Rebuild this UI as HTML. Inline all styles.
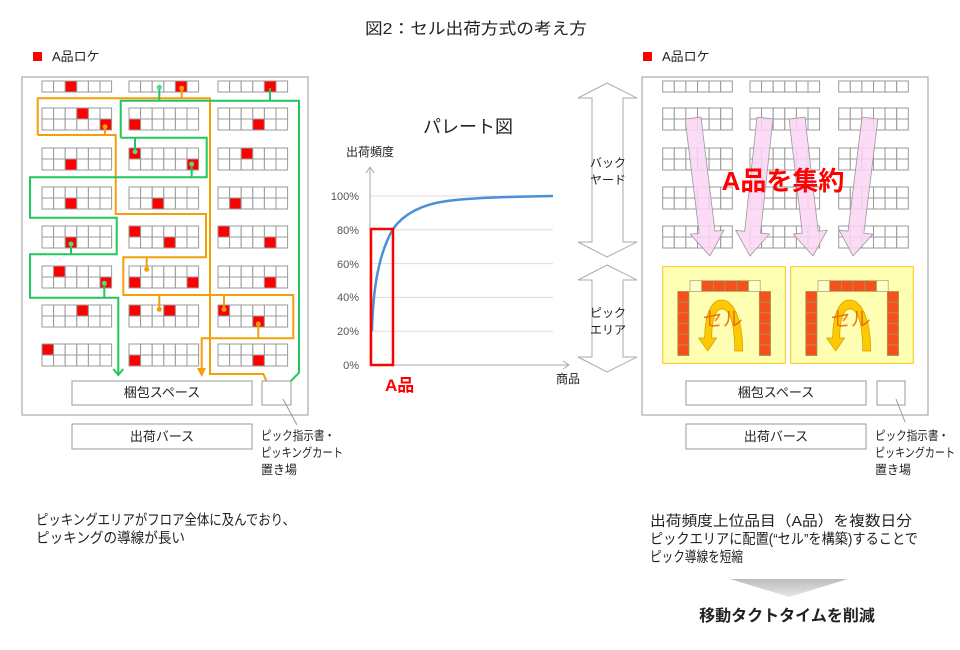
<!DOCTYPE html>
<html><head><meta charset="utf-8"><style>
html,body{margin:0;padding:0;background:#fff;}
svg{display:block;font-family:"Liberation Sans","Noto Sans CJK JP",sans-serif;}
</style></head><body>
<svg id="s" width="960" height="650" viewBox="0 0 960 650" xmlns="http://www.w3.org/2000/svg">
<defs>
<linearGradient id="tg" x1="0" y1="0" x2="0" y2="1"><stop offset="0" stop-color="#bdbdbd"/><stop offset="1" stop-color="#e6e6e6"/></linearGradient>
</defs>
<text x="365" y="34" font-size="16" fill="#222" textLength="222" lengthAdjust="spacingAndGlyphs">図2：セル出荷方式の考え方</text>
<rect x="33" y="52" width="9" height="9" fill="#f00"/>
<text x="52" y="61" font-size="13" fill="#222">A品ロケ</text>
<rect x="643" y="52" width="9" height="9" fill="#f00"/>
<text x="662" y="61" font-size="13" fill="#222">A品ロケ</text>

<rect x="22" y="77" width="286" height="338" fill="none" stroke="#999" stroke-width="1"/>
<rect x="642" y="77" width="286" height="338" fill="none" stroke="#999" stroke-width="1"/>
<g id="racks"></g>

<g fill="none" stroke="#f59e0b" stroke-width="2">
<polyline points="37.7,135 37.7,98.3 210,98.3 210,374 263.3,374 268.3,385"/>
<polyline points="37.7,135 115.7,135 115.7,214 206,214 206,257.3 123.3,257.3 123.3,295 293.3,295 293.3,338.3 201.7,338.3 201.7,372"/>
<path d="M105,126.7V135 M181.7,88.3V98.3 M146.7,269.3V257.3 M159.3,309.3V295 M224,309.3V295 M258.3,324V338.3"/>
</g>
<path d="M197,368 L206,368 L201.7,377Z" fill="#f59e0b"/>
<g fill="#f59e0b"><circle cx="105" cy="126.7" r="2.5"/><circle cx="181.7" cy="88.3" r="2.5"/><circle cx="146.7" cy="269.3" r="2.5"/><circle cx="159.3" cy="309.3" r="2.5"/><circle cx="224" cy="309.3" r="2.5"/><circle cx="258.3" cy="324" r="2.5"/></g>
<g fill="none" stroke="#22c55e" stroke-width="2">
<polyline points="120.7,137.7 120.7,100.7 299,100.7 299,372.7 286,386"/>
<polyline points="120.7,137.7 206.7,137.7 206.7,177.3 30,177.3 30,217.7 116.7,217.7 116.7,254.3 30,254.3 30,297.7 118.3,297.7 118.3,375"/>
<path d="M159.3,87.3V100.7 M270,88V100.7 M135,151.7V137.7 M191.7,164V177.3 M71,244V254.3 M104.3,283.3V297.7"/>
<path d="M113.3,369 L118.3,375 L123.3,369"/>
</g>
<g fill="#4ade80"><circle cx="159.3" cy="87.3" r="2.5"/><circle cx="135" cy="151.7" r="2.5"/><circle cx="191.7" cy="164" r="2.5"/><circle cx="71" cy="244" r="2.5"/><circle cx="104.3" cy="283.3" r="2.5"/></g>

<g fill="#fff" stroke="#999" stroke-width="1">
<rect x="72" y="381" width="180" height="24"/>
<rect x="262" y="381" width="29" height="24"/>
<rect x="72" y="424" width="180" height="25"/>
<rect x="686" y="381" width="180" height="24"/>
<rect x="877" y="381" width="28" height="24"/>
<rect x="686" y="424" width="180" height="25"/>
</g>
<g stroke="#999"><line x1="283" y1="399" x2="297" y2="425"/><line x1="896" y1="399" x2="905" y2="422"/></g>
<g font-size="13" fill="#222" text-anchor="middle">
<text x="162" y="397">梱包スペース</text><text x="162" y="441">出荷バース</text>
<text x="776" y="397">梱包スペース</text><text x="776" y="441">出荷バース</text>
</g>
<g font-size="12.5" fill="#222" lengthAdjust="spacingAndGlyphs">
<text x="261" y="440" textLength="74" lengthAdjust="spacingAndGlyphs">ピック指示書・</text><text x="261" y="457" textLength="82" lengthAdjust="spacingAndGlyphs">ピッキングカート</text><text x="261" y="474" textLength="36" lengthAdjust="spacingAndGlyphs">置き場</text>
<text x="875" y="440" textLength="74" lengthAdjust="spacingAndGlyphs">ピック指示書・</text><text x="875" y="457" textLength="80" lengthAdjust="spacingAndGlyphs">ピッキングカート</text><text x="875" y="474" textLength="36" lengthAdjust="spacingAndGlyphs">置き場</text>
</g>

<g id="cells"></g>

<g fill="#fbd5f5" fill-opacity="0.85" stroke="#999" stroke-width="0.8" id="pink"></g>
<text x="783" y="190" font-size="26" font-weight="bold" fill="#f00" text-anchor="middle">A品を集約</text>

<text x="468" y="133" font-size="18" fill="#222" text-anchor="middle">パレート図</text>
<text x="346" y="156" font-size="12" fill="#222">出荷頻度</text>
<g stroke="#ddd"><line x1="370" y1="196" x2="553" y2="196"/><line x1="370" y1="229.8" x2="553" y2="229.8"/><line x1="370" y1="263.6" x2="553" y2="263.6"/><line x1="370" y1="297.4" x2="553" y2="297.4"/><line x1="370" y1="331.2" x2="553" y2="331.2"/></g>
<g stroke="#aaa" fill="none"><path d="M370,365V168 M366,173 L370,167 L374,173 M370,365H568 M563,361 L569,365 L563,369"/></g>
<g font-size="11" fill="#555" text-anchor="end"><text x="359" y="200">100%</text><text x="359" y="234">80%</text><text x="359" y="268">60%</text><text x="359" y="301">40%</text><text x="359" y="335">20%</text><text x="359" y="369">0%</text></g>
<path d="M372,331 C373,290 378,255 393,229 C405,212 425,204 447,201 C470,198 500,197 553,196" fill="none" stroke="#4a90d9" stroke-width="2.5"/>
<rect x="371" y="229" width="22" height="136" fill="none" stroke="#f00" stroke-width="2.5"/>
<text x="385" y="391" font-size="17" font-weight="bold" fill="#f00">A品</text>
<text x="556" y="383" font-size="12" fill="#222">商品</text>
<g fill="#fff" stroke="#aaa"><path d="M607,83 L637,98 L623,98 L623,242 L637,242 L607,257 L578,242 L592,242 L592,98 L578,98Z"/><path d="M607,265 L637,280 L623,280 L623,357 L637,357 L607,372 L578,357 L592,357 L592,280 L578,280Z"/></g>
<g font-size="12" fill="#222" text-anchor="middle"><text x="608" y="167">バック</text><text x="608" y="184">ヤード</text><text x="608" y="317">ピック</text><text x="608" y="334">エリア</text></g>

<g font-size="14.5" fill="#222">
<text x="36" y="525" textLength="259" lengthAdjust="spacingAndGlyphs">ピッキングエリアがフロア全体に及んでおり、</text>
<text x="36" y="543" textLength="149" lengthAdjust="spacingAndGlyphs">ピッキングの導線が長い</text>
<text x="650" y="526" textLength="262" lengthAdjust="spacingAndGlyphs">出荷頻度上位品目（A品）を複数日分</text>
<text x="650" y="544" textLength="268" lengthAdjust="spacingAndGlyphs">ピックエリアに配置(“セル”を構築)することで</text>
<text x="650" y="562" textLength="93" lengthAdjust="spacingAndGlyphs">ピック導線を短縮</text>
</g>
<path d="M730,579 L848,579 L789,597Z" fill="url(#tg)"/>
<text x="787" y="621" font-size="16" font-weight="bold" fill="#222" text-anchor="middle">移動タクトタイムを削減</text>
</svg>
<script>
var NS="http://www.w3.org/2000/svg";
function el(p,t,a){var e=document.createElementNS(NS,t);for(var k in a)e.setAttribute(k,a[k]);p.appendChild(e);return e;}
var R=document.getElementById('racks');
var cw=11.6,ch=11;
function rack(x,y,rows,reds){
 for(var r=0;r<rows;r++)for(var c=0;c<6;c++){
  var red=reds.some(function(q){return q[0]==r&&q[1]==c;});
  el(R,'rect',{x:x+c*cw,y:y+r*ch,width:cw,height:ch,fill:red?'#f00':'#fff',stroke:'#999','stroke-width':1});
 }}
var LX=[42,129,218],RX=[662.7,750,838.7];
var RY=[108,148,187,226,266,305,344];
var topRed=[[[0,2]],[[0,4]],[[0,4]]];
var L=[
 [[[0,3],[1,5]],[[1,0]],[[1,3]]],
 [[[1,2]],[[0,0],[1,5]],[[0,2]]],
 [[[1,2]],[[1,2]],[[1,1]]],
 [[[1,2]],[[0,0],[1,3]],[[0,0],[1,4]]],
 [[[0,1],[1,5]],[[1,0],[1,5]],[[1,4]]],
 [[[0,3]],[[0,0],[0,3]],[[0,0],[1,3]]],
 [[[0,0]],[[1,0]],[[1,3]]]];
for(var i=0;i<3;i++){rack(LX[i],81,1,topRed[i]);rack(RX[i],81,1,[]);}
for(var j=0;j<7;j++)for(var i=0;i<3;i++)rack(LX[i],RY[j],2,L[j][i]);
for(var j=0;j<4;j++)for(var i=0;i<3;i++)rack(RX[i],RY[j],2,[]);
var P=document.getElementById('pink');
function parrow(x1,y1,x2,y2){var dx=x2-x1,dy=y2-y1,l=Math.hypot(dx,dy),ux=dx/l,uy=dy/l,nx=-uy,ny=ux,w=8,hw=17,hl=24;
 var bx=x2-ux*hl,by=y2-uy*hl;var pts=[[x1+nx*w,y1+ny*w],[bx+nx*w,by+ny*w],[bx+nx*hw,by+ny*hw],[x2,y2],[bx-nx*hw,by-ny*hw],[bx-nx*w,by-ny*w],[x1-nx*w,y1-ny*w]];
 el(P,'polygon',{points:pts.map(function(p){return p.join(',')}).join(' ')});}
parrow(693,118,710,256);parrow(765,118,750,256);parrow(797,118,813,256);parrow(870,118,853,256);
var C=document.getElementById('cells');
[[662.7,690],[790.7,818]].forEach(function(b){
 el(C,'rect',{x:b[0],y:266.7,width:122.6,height:96.6,fill:'#ffffb3',stroke:'#f5c518','stroke-width':1});
 var x0=b[1];
 for(var c=0;c<6;c++)el(C,'rect',{x:x0+c*11.7,y:280.7,width:11.7,height:10.7,fill:(c==0||c==5)?'#ffffcc':'#f4511e',stroke:'#a0a060','stroke-width':0.7});
 for(var r=0;r<6;r++){el(C,'rect',{x:x0-12.3,y:291.4+r*10.7,width:11.3,height:10.7,fill:'#f4511e',stroke:'#a0a060','stroke-width':0.7});
  el(C,'rect',{x:x0+69.3,y:291.4+r*10.7,width:11.3,height:10.7,fill:'#f4511e',stroke:'#a0a060','stroke-width':0.7});}
 var cx=x0+31.7;
 el(C,'path',{d:'M'+(cx+21)+',351 C'+(cx+21)+',315 '+(cx+10)+',300 '+cx+',300 C'+(cx-12)+',300 '+(cx-17)+',318 '+(cx-17)+',338 L'+(cx-23)+',338 L'+(cx-14)+',351 L'+(cx-5)+',338 L'+(cx-10)+',338 C'+(cx-10)+',320 '+(cx-6)+',309 '+cx+',309 C'+(cx+7)+',309 '+(cx+13)+',320 '+(cx+13)+',351 Z',fill:'#ffc800',stroke:'#c9a000','stroke-width':0.7});
 var t=el(C,'text',{x:cx+1,y:326,'font-size':20,fill:'#e8650a','text-anchor':'middle','fill-opacity':0.85});t.textContent='セル';
});
</script>
</body></html>
